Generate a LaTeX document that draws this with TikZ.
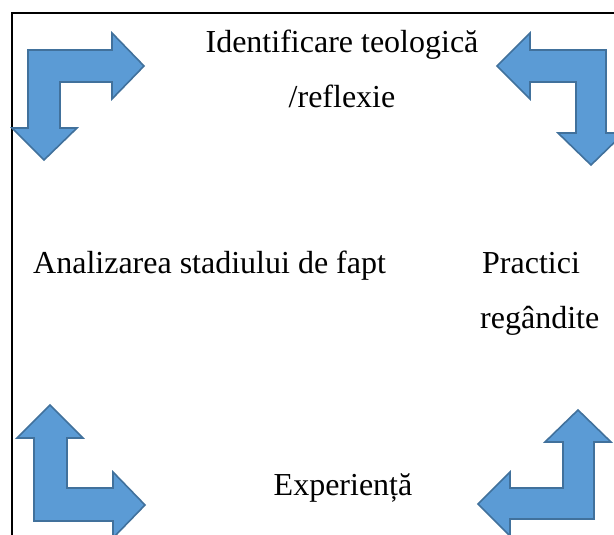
\documentclass[tikz,border=0pt]{standalone}
\usepackage{fontspec}
\setmainfont{Liberation Serif}
\usetikzlibrary{positioning}
\definecolor{arrowfill}{RGB}{91,155,213}
\definecolor{arrowline}{RGB}{65,113,156}
\tikzset{
    %Define style for the bent arrows
    bentarrow/.style={
           fill=arrowfill,
           draw=arrowline,
           line width=1.6pt,
           line join=miter},
    %Define style for the labels
    eticheta/.style={
           inner sep=0pt,
           font=\fontsize{32}{55}\selectfont},
    % Define frame style
    cadru/.style={
           draw=black,
           line width=1.8pt}
}
\begin{document}
\begin{tikzpicture}[x=1pt,y=-1pt]
         \useasboundingbox (0,0) rectangle (614,535);
         \clip (0,0) rectangle (614,535);
         %frame
         \draw[cadru] (614,13) -- (12,13) -- (12,536);
         %arrows
         \draw[bentarrow] (28,50) -- (112,50) -- (112,33) -- (144,66) -- (112,99)
            -- (112,82) -- (60,82) -- (60,128) -- (77,128) -- (44,160)
            -- (12,128) -- (28,128) -- cycle;
         \draw[bentarrow] (530,50) -- (606,50) -- (606,133) -- (624,133) -- (591,165)
            -- (558,133) -- (576,133) -- (576,82) -- (530,82) -- (530,99)
            -- (497,66) -- (530,33) -- cycle;
         \draw[bentarrow] (50,405) -- (83,438) -- (67,438) -- (67,488) -- (113,488)
            -- (113,472) -- (145,505) -- (113,538) -- (113,521) -- (34,521)
            -- (34,438) -- (17,438) -- cycle;
         \draw[bentarrow] (578,410) -- (611,442) -- (594,442) -- (594,519) -- (510,519)
            -- (510,536) -- (478,504) -- (510,472) -- (510,488) -- (563,488)
            -- (563,442) -- (545,442) -- cycle;
         %labels
         \node[eticheta, anchor=base] (teol) at (342,53) {Identificare teologică};
         \node[eticheta, anchor=base] (refl) at (342,108) {/reflexie};
         \node[eticheta, anchor=base west] (anal) at (33,273) {Analizarea stadiului de fapt};
         \node[eticheta, anchor=base west] (prac) at (482,273) {Practici};
         \node[eticheta, anchor=base west] (regd) at (480,328) {regândite};
         \node[eticheta, anchor=base] (expr) at (343,495) {Experiență};
\end{tikzpicture}
\end{document}
